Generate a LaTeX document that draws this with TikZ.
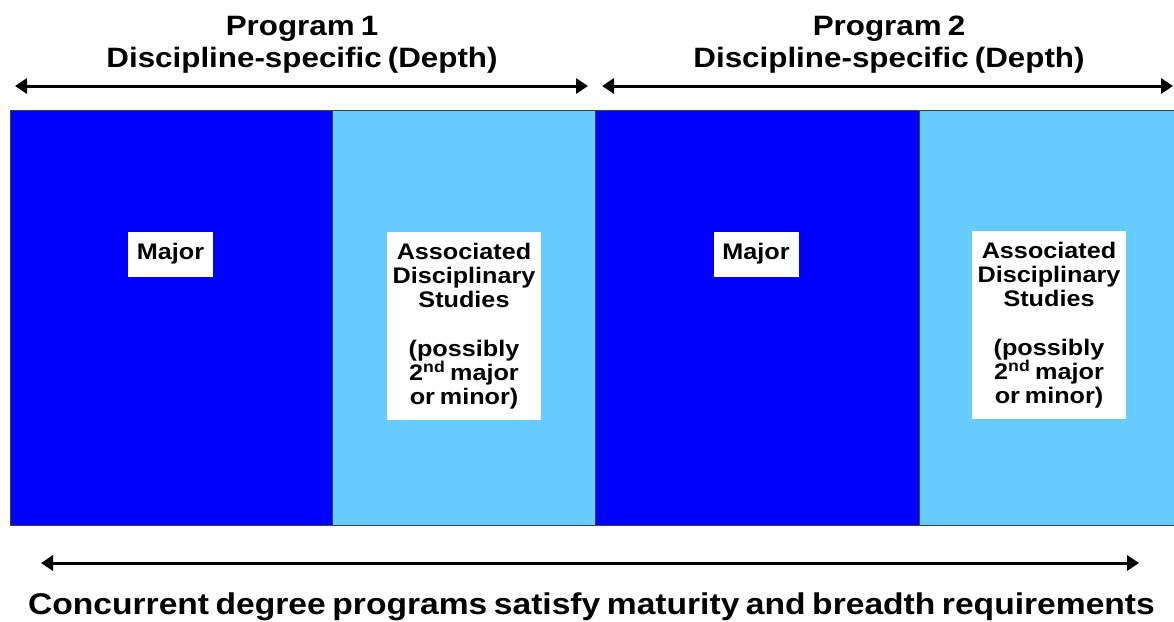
\documentclass[tikz,border=0pt]{standalone}
\usepackage{fontspec}
\setmainfont{Liberation Sans}
\newfontfamily\widefont[FakeStretch=1.12,WordSpace=0.7]{Liberation Sans}
\usepackage{tikz}
\usetikzlibrary{arrows.meta}
\usetikzlibrary{calc}

\definecolor{majorblue}{RGB}{0,0,255}
\definecolor{assocblue}{RGB}{102,204,255}

\tikzset{
  block/.style={draw=black!75, line width=1pt},
  majorlbl/.style={fill=white, font=\widefont\fontsize{22.5}{24}\selectfont\bfseries, minimum width=85pt, minimum height=45pt, inner sep=0pt},
  assoclbl/.style={fill=white, font=\widefont\fontsize{22.5}{24}\selectfont\bfseries, align=center, minimum width=154pt, minimum height=188pt, inner sep=0pt},
  span/.style={{Triangle[length=12pt,width=15pt]}-{Triangle[length=12pt,width=15pt]}, line width=3pt},
  heading/.style={font=\widefont\fontsize{28}{32}\selectfont\bfseries, align=center}
}

\begin{document}
\begin{tikzpicture}[x=1pt,y=-1pt]
\useasboundingbox (0,0) rectangle (1174,621);

% program blocks
\filldraw[block, fill=majorblue] (10,110) rectangle (332,525);
\filldraw[block, fill=assocblue] (332,110) rectangle (595,525);
\filldraw[block, fill=majorblue] (595,110) rectangle (919,525);
\filldraw[block, fill=assocblue] (919,110) rectangle (1180,525);

% labels in blocks
\node[majorlbl] (major1) at (170.5,254) {Major};
\node[assoclbl] (assoc1) at (464,326) {Associated\\Disciplinary\\Studies\\[25pt](possibly\\2\textsuperscript{nd} major\\or minor)};
\node[majorlbl] (major2) at (756,254) {Major};
\node[assoclbl] (assoc2) at (1049,325) {Associated\\Disciplinary\\Studies\\[25pt](possibly\\2\textsuperscript{nd} major\\or minor)};

% headings
\node[heading] (prog1) at (302,45) {Program 1\\Discipline-specific (Depth)};
\node[heading] (prog2) at (889,45) {Program 2\\Discipline-specific (Depth)};
\node[font=\widefont\fontsize{30}{32}\selectfont\bfseries, anchor=base] (concur) at (591.5,614) {Concurrent degree programs satisfy maturity and breadth requirements};

% spans
\coordinate (p1l) at (15,86);
\coordinate (p1r) at (588,86);
\coordinate (p2l) at (602,86);
\coordinate (p2r) at (1173,86);
\coordinate (cl) at (41,563);
\coordinate (cr) at (1139,563);
\draw[span] (p1l) -- (p1r);
\draw[span] (p2l) -- (p2r);
\draw[span] (cl) -- (cr);

\end{tikzpicture}
\end{document}
